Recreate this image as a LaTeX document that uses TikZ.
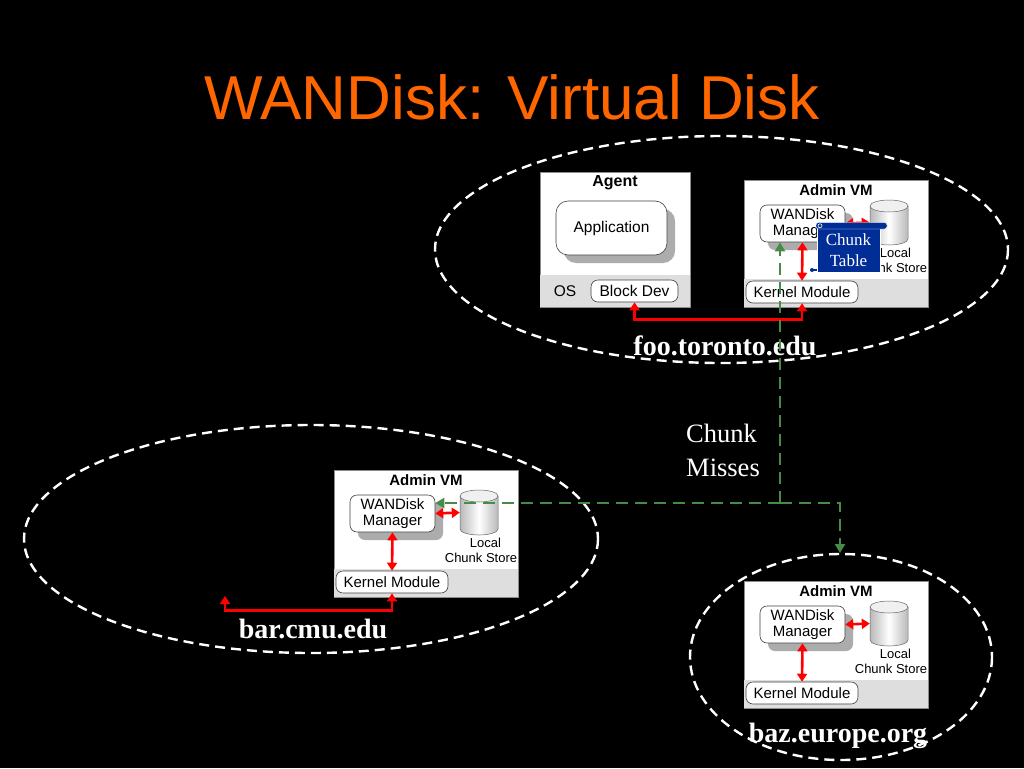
\documentclass[tikz,border=0pt]{standalone}
\usepackage{fontspec}
\setmainfont{Liberation Sans}
\newfontfamily\seriff{Liberation Serif}
\usetikzlibrary{arrows.meta,calc}
\definecolor{ttlorange}{RGB}{255,102,0}
\definecolor{grn}{RGB}{70,140,70}
\definecolor{ctblue}{RGB}{0,45,150}
\definecolor{band}{RGB}{222,222,222}
\definecolor{boxline}{RGB}{140,140,140}
\tikzset{
  zone/.style={draw=white, line width=2.4pt, dash pattern=on 10pt off 6pt},
  vmbox/.style={fill=white, draw=boxline, line width=0.6pt},
  rbox/.style={draw=black!75, fill=white, rounded corners=7pt, line width=0.6pt, align=center, inner sep=0pt},
  shadowbox/.style={fill=gray!65, rounded corners=7pt},
  redlink/.style={draw=red, line width=2.6pt, {Triangle[length=8pt,width=10pt]}-{Triangle[length=8pt,width=10pt]}},
  grnlink/.style={draw=grn, line width=2.6pt, dash pattern=on 12pt off 7pt},
  lbl/.style={font=\seriff\bfseries\fontsize{28}{30}\selectfont, text=white, anchor=base},
  smalltxt/.style={font=\fontsize{13}{15.5}\selectfont},
  adminvm/.pic={
    \draw[vmbox] (0,0) rectangle (184,127);
    \fill[band] (0.4,99) rectangle (183.6,126.6);
    \node[font=\bfseries\fontsize{15}{16}\selectfont] (-title) at (92,10) {Admin VM};
    \fill[shadowbox] (24,33) rectangle (109,70);
    \node[rbox, minimum width=85pt, minimum height=37pt, font=\fontsize{15}{16}\selectfont] (-mgr) at (58.5,43.5) {WANDisk\\Manager};
    \shade[left color=gray!55, right color=gray!55, middle color=white, draw=black!60, line width=0.5pt]
      (126,26) -- (126,59) arc[start angle=180, end angle=0, x radius=19, y radius=6] -- (164,26) -- cycle;
    \filldraw[fill=gray!12, draw=black!60, line width=0.5pt] (145,26) ellipse [x radius=19, y radius=6];
    \node[inner sep=0pt, minimum width=38pt, minimum height=45pt] (-cyl) at (145,42.5) {};
    \node[smalltxt, align=center] (-store) at (147,80.5) {\hspace*{9pt}Local\\Chunk Store};
    \node[rbox, minimum width=112pt, minimum height=22pt, font=\fontsize{15}{16}\selectfont] (-km) at (58,112) {Kernel Module};
    \draw[redlink] (-mgr.east) -- (-cyl.west);
    \draw[redlink] (-mgr.south) -- (-km.north);
  }
}
\begin{document}
\begin{tikzpicture}[x=1pt,y=-1pt]
\useasboundingbox (0,0) rectangle (1024,768);
\fill[black] (0,0) rectangle (1024,768);

\node[text=ttlorange, font=\fontsize{62}{70}\selectfont] (title) at (512,97) {WANDisk: Virtual Disk};

% zones
\draw[zone] (721.5,249.5) ellipse [x radius=286.5, y radius=113.5];
\draw[zone] (311,539) ellipse [x radius=287, y radius=114];
\draw[zone] (841,657) ellipse [x radius=151, y radius=103];

% Agent
\draw[vmbox] (540,172) rectangle (690,307);
\fill[band] (540.4,275) rectangle (689.6,306.6);
\node[font=\bfseries\fontsize{16}{17}\selectfont] (agent) at (615,183) {Agent};
\fill[shadowbox, rounded corners=12pt] (564,209) rectangle (675,263);
\node[rbox, rounded corners=12pt, minimum width=111pt, minimum height=54pt, font=\fontsize{15.5}{17}\selectfont] (app) at (611.5,228) {Application};
\node[font=\fontsize{15.5}{17}\selectfont] (os) at (565,291) {OS};
\node[rbox, minimum width=87pt, minimum height=22pt, font=\fontsize{15.5}{17}\selectfont] (bd) at (634.5,291) {Block Dev};

% Admin VMs
\pic (top) at (744,180) {adminvm};
\pic (bar) at (334,470) {adminvm};
\pic (baz) at (744,581) {adminvm};

% Chunk table overlay
\node[fill=ctblue, draw=white, line width=0.5pt, minimum width=63pt, minimum height=44pt, inner sep=0pt, align=center, text=white, font=\seriff\fontsize{17}{21}\selectfont] (ct) at (848.5,250) {Chunk\\Table};
\filldraw[fill=ctblue, draw=white, line width=0.4pt, rounded corners=2.5pt] (816,222.5) rectangle (887,229);
\draw[white, line width=0.6pt] (820,225.8) circle (2pt);
\draw[ctblue, line width=1.5pt] (811,270) -- (817,270);
\fill[ctblue] (812,270) circle (2pt);

% labels
\node[lbl] (foo) at (725,355) {foo.toronto.edu};
\node[lbl] (barl) at (313,638) {bar.cmu.edu};
\node[lbl] (bazl) at (838,742) {baz.europe.org};
\node[text=white, align=left, font=\seriff\fontsize{26.5}{34}\selectfont] (misses) at (723,450) {Chunk\\Misses};

% red connectors
\draw[redlink] (bd.south) |- ($(top-km.south)+(0,16)$) -| (top-km.south);
\coordinate (barfree) at (225,596);
\draw[redlink] (barfree) |- ($(bar-km.south)+(0,17)$) -| (bar-km.south);

% green chunk misses
\coordinate (gj) at (780,503);
\coordinate (bazin) at (840,553);
\draw[grnlink, -{Triangle[length=9pt,width=10pt]}] (gj) -- (gj |- top-mgr.south);
\draw[grnlink, -{Triangle[length=9pt,width=10pt]}] (gj) -- (gj -| bar-mgr.east);
\draw[grnlink, -{Triangle[length=9pt,width=10pt]}] (gj) -| (bazin);
\end{tikzpicture}
\end{document}
